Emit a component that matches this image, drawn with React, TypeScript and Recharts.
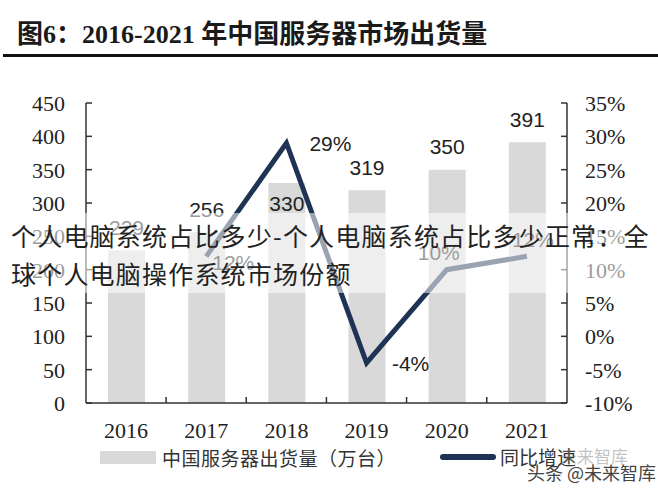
import React from 'react';
import { ComposedChart, Bar, Line, XAxis, YAxis, LabelList } from 'recharts';

const years = ['2016', '2017', '2018', '2019', '2020', '2021'];
const shipments = [229, 256, 330, 319, 350, 391];
const growth: (number | null)[] = [null, 12, 29, -4, 10, 12];
const leftTicks = [0, 50, 100, 150, 200, 250, 300, 350, 400, 450];
const rightTicks = [-10, -5, 0, 5, 10, 15, 20, 25, 30, 35];

const data = years.map((year, i) => ({ year, shipments: shipments[i], growth: growth[i] }));

const NAVY = '#1f3354';
const BAR = '#d9d9d9';
const AXIS = '#333';
const SERIF = '"Liberation Serif", "Times New Roman", serif';
const SANS = '"Liberation Sans", Arial, sans-serif';
const CJK = '"Noto Sans CJK SC", sans-serif';

const LeftTick = (props: any) => {
  const { x, y, payload } = props;
  return (
    <g>
      <line x1={x} x2={x + 6} y1={y} y2={y} stroke={AXIS} strokeWidth={1.5} />
      <text x={x - 21} y={y} dy="0.36em" textAnchor="end" fontFamily={SERIF} fontSize={22} fill="#222">
        {payload.value}
      </text>
    </g>
  );
};

const RightTick = (props: any) => {
  const { x, y, payload } = props;
  return (
    <g>
      <line x1={x - 6} x2={x} y1={y} y2={y} stroke={AXIS} strokeWidth={1.5} />
      <text x={x + 18} y={y} dy="0.36em" textAnchor="start" fontFamily={SERIF} fontSize={22} fill="#222">
        {`${payload.value}%`}
      </text>
    </g>
  );
};

const BottomTick = (props: any) => {
  const { x, y, payload, index } = props;
  return (
    <g>
      {index < years.length - 1 && (
        <line x1={x + 40} x2={x + 40} y1={y - 6} y2={y} stroke={AXIS} strokeWidth={1.5} />
      )}
      <text x={x} y={y + 35} textAnchor="middle" fontFamily={SERIF} fontSize={22} fill="#222">
        {payload.value}
      </text>
    </g>
  );
};

const renderBarLabel = (props: any) => {
  const { x, y, width, value, index } = props;
  const cy = index === 2 ? y + 20 : y - 23;
  return (
    <text x={x + width / 2} y={cy} dy="0.36em" textAnchor="middle" fontFamily={SANS} fontSize={21} fill="#222">
      {value}
    </text>
  );
};

const lineLabelOffset: Record<number, [number, number]> = {
  1: [27, 6],
  2: [44, 0],
  3: [44, 0],
  4: [-8, -17],
  5: [6, -17],
};

const renderLineLabel = (props: any) => {
  const { x, y, value, index } = props;
  if (value === null || value === undefined) return null;
  const off = lineLabelOffset[index] || [0, -17];
  return (
    <text x={x + off[0]} y={y + off[1]} dy="0.36em" textAnchor="middle" fontFamily={SANS} fontSize={21} fill="#222">
      {`${value}%`}
    </text>
  );
};

export default function App() {
  return (
    <div style={{ position: 'absolute', left: 0, top: 0, width: 658, height: 490, background: '#fff', overflow: 'hidden' }}>
      <div
        style={{
          position: 'absolute',
          left: 17,
          top: 18,
          lineHeight: '34px',
          fontSize: 26,
          fontWeight: 700,
          fontFamily: `${SERIF.split(',')[0]}, ${CJK}`,
          color: '#1a1a1a',
          whiteSpace: 'nowrap',
        }}
      >
        图6：2016-2021 年中国服务器市场出货量
      </div>
      <div style={{ position: 'absolute', left: 3, top: 54, width: 655, height: 3, background: '#111' }} />

      <div style={{ position: 'absolute', left: 0, top: 0 }}>
        <ComposedChart width={658} height={490} data={data} margin={{ top: 103, right: 31, bottom: 57, left: 26 }}>
          <XAxis
            dataKey="year"
            height={30}
            tickSize={0}
            tickMargin={0}
            tickLine={false}
            axisLine={{ stroke: AXIS, strokeWidth: 1.5 }}
            tick={<BottomTick />}
            interval={0}
          />
          <YAxis
            yAxisId="left"
            orientation="left"
            width={60}
            domain={[0, 450]}
            ticks={leftTicks}
            tickSize={0}
            tickMargin={0}
            tickLine={false}
            axisLine={{ stroke: AXIS, strokeWidth: 1.5 }}
            tick={<LeftTick />}
            interval={0}
          />
          <YAxis
            yAxisId="right"
            orientation="right"
            width={60}
            domain={[-10, 35]}
            ticks={rightTicks}
            tickSize={0}
            tickMargin={0}
            tickLine={false}
            axisLine={{ stroke: AXIS, strokeWidth: 1.5 }}
            tick={<RightTick />}
            interval={0}
          />
          <Bar yAxisId="left" dataKey="shipments" fill={BAR} barSize={37} isAnimationActive={false}>
            <LabelList dataKey="shipments" content={renderBarLabel} />
          </Bar>
          <Line
            yAxisId="right"
            type="linear"
            dataKey="growth"
            stroke={NAVY}
            strokeWidth={5}
            strokeLinejoin="miter"
            dot={false}
            activeDot={false}
            connectNulls
            isAnimationActive={false}
          >
            <LabelList dataKey="growth" content={renderLineLabel} />
          </Line>
        </ComposedChart>
      </div>

      {/* legend */}
      <div style={{ position: 'absolute', left: 100, top: 451, width: 56, height: 13, background: BAR }} />
      <div style={{ position: 'absolute', left: 162, top: 446, lineHeight: '24px', fontSize: 19, letterSpacing: 0.5, fontFamily: CJK, color: '#333', whiteSpace: 'nowrap' }}>
        中国服务器出货量（万台）
      </div>
      <div style={{ position: 'absolute', left: 440, top: 454, width: 56, height: 6, borderRadius: 3, background: NAVY }} />
      <div style={{ position: 'absolute', left: 500, top: 445, lineHeight: '24px', fontSize: 19, fontFamily: CJK, color: '#333', whiteSpace: 'nowrap' }}>
        同比增速
      </div>

      {/* watermark band */}
      <div
        style={{
          position: 'absolute',
          left: 0,
          top: 213,
          width: 658,
          height: 80,
          background: 'rgba(255,255,255,0.55)',
        }}
      />
      <div style={{ position: 'absolute', left: 11, top: 216, lineHeight: '38px', fontSize: 25, letterSpacing: 1.2, fontFamily: CJK, color: '#222', whiteSpace: 'nowrap' }}>
        <div>个人电脑系统占比多少-个人电脑系统占比多少正常：全</div>
        <div>球个人电脑操作系统市场份额</div>
      </div>

      {/* bottom-right watermark */}
      <div style={{ position: 'absolute', left: 560, top: 446, lineHeight: '20px', fontSize: 17, fontFamily: CJK, color: 'rgba(120,120,120,0.45)', whiteSpace: 'nowrap' }}>
        未来智库
      </div>
      <div style={{ position: 'absolute', left: 527, top: 460, lineHeight: '24px', fontSize: 18, fontFamily: CJK, color: '#444', whiteSpace: 'nowrap' }}>
        头条 @未来智库
      </div>
    </div>
  );
}
